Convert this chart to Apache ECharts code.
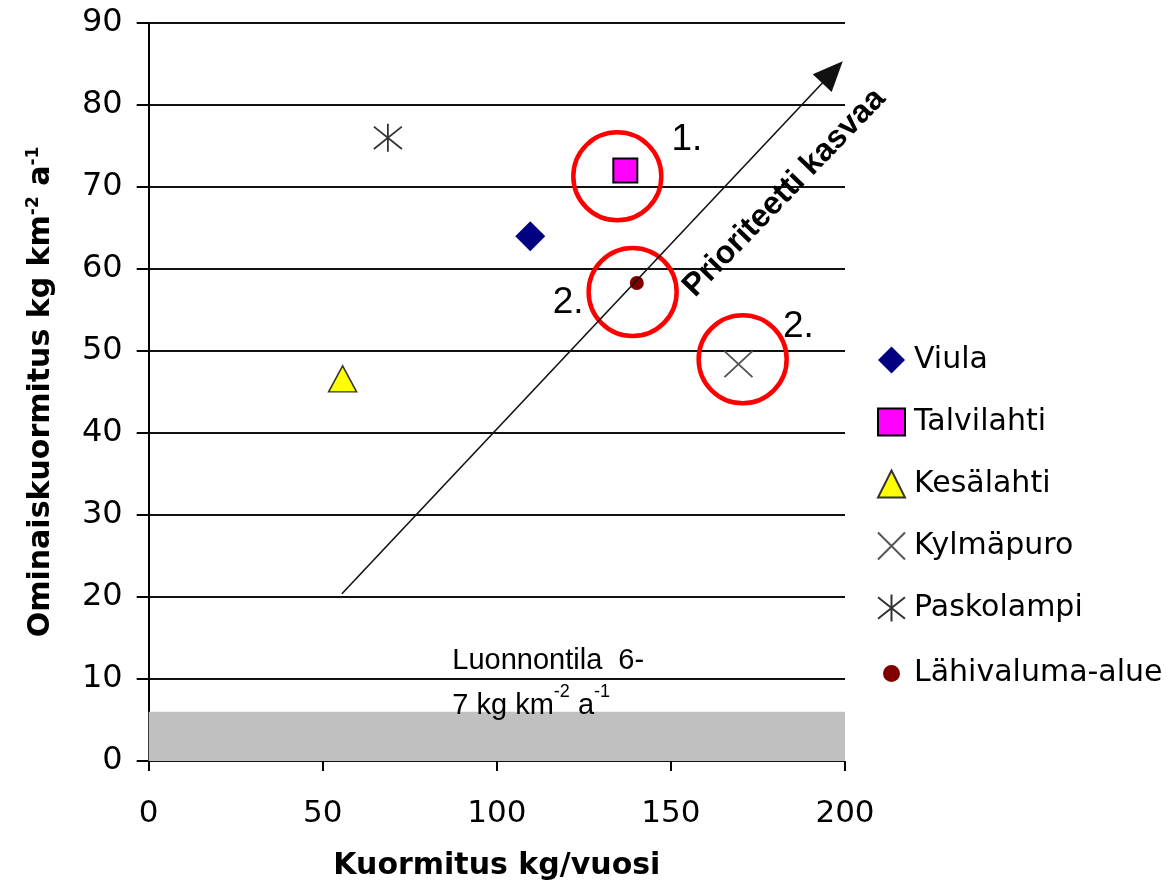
<!DOCTYPE html>
<html>
<head>
<meta charset="utf-8">
<script src="https://cdn.jsdelivr.net/npm/echarts@6/dist/echarts.min.js"></script>
<style>
html, body { margin: 0; padding: 0; background: #fff; }
#main { width: 1167px; height: 893px; }
</style>
</head>
<body>
<div id="main"></div>
<script>
// pisteet: [kuormitus kg/vuosi, ominaiskuormitus kg km-2 a-1]
var viula = [[109.6, 64.0]];
var talvilahti = [[136.9, 72.0]];
var kesalahti = [[55.7, 46.6]];
var kylmapuro = [[169.4, 48.4]];
var paskolampi = [[68.7, 76.0]];
var lahivaluma = [[140.2, 58.3]];

// korostusympyrät ja numerot
var circles = [[134.6, 71.3], [139.0, 57.2], [170.6, 49.0]];
var circleTexts = ['1.', '2.', '2.'];
var circleTextPos = [[154.6, 75.7], [120.5, 55.9], [186.6, 52.9]];

// luonnontila-alue ja nuoli
var natureBand = [0, 6];
var natureTextPos = [87.2, 9.45];
var arrowFrom = [55.5, 20.4];
var arrowTo = [196.4, 84.0];
var arrowTextPos = [182.6, 69.3];

var xTicks = { min: 0, max: 200, interval: 50 };
var yTicks = { min: 0, max: 90, interval: 10 };

var FONT = 'DejaVu Sans';
var ARIAL = 'Liberation Sans';

var pathX = 'path://M0,0L10,10M10,0L0,10';
var pathStar = 'path://M0,1L10,9M10,1L0,9M5,0L5,10';

var myChart = echarts.init(document.getElementById('main'));

var textPoints = circleTexts.map(function (t, i) {
    return { name: t, value: circleTextPos[i] };
});

myChart.setOption({
    animation: false,
    backgroundColor: '#fff',
    grid: {
        left: 148.7,
        right: 322,
        top: 23,
        bottom: 132,
        outerBoundsMode: 'none'
    },
    legend: {
        orient: 'vertical',
        left: 868,
        top: 340,
        itemWidth: 27,
        itemHeight: 27,
        itemGap: 32,
        selectedMode: false,
        data: [
            'Viula',
            { name: 'Talvilahti', itemStyle: { borderWidth: 2, borderColor: '#000' } },
            'Kesälahti',
            'Kylmäpuro',
            'Paskolampi',
            { name: 'Lähivaluma-alue', itemStyle: { borderColor: '#fff', borderWidth: 10 } }
        ],
        textStyle: { fontFamily: FONT, fontSize: 30, color: '#000', lineHeight: 30, padding: [0, 0, 0, 4] }
    },
    xAxis: {
        type: 'value',
        min: xTicks.min,
        max: xTicks.max,
        interval: xTicks.interval,
        name: 'Kuormitus kg/vuosi',
        nameLocation: 'middle',
        nameGap: 90,
        nameTextStyle: { fontFamily: FONT, fontWeight: 'bold', fontSize: 30, color: '#000' },
        axisLine: { show: false },
        axisTick: { show: true, length: 10, lineStyle: { color: '#000', width: 2 } },
        axisLabel: { margin: 37, fontFamily: FONT, fontSize: 31, color: '#000' },
        splitLine: { show: false }
    },
    yAxis: {
        type: 'value',
        min: yTicks.min,
        max: yTicks.max,
        interval: yTicks.interval,
        name: '{b|Ominaiskuormitus kg km}{s|-2}{b| a}{s|-1}',
        nameLocation: 'middle',
        nameGap: 90,
        nameTextStyle: {
            fontFamily: FONT, fontWeight: 'bold', fontSize: 30, color: '#000',
            rich: {
                b: { fontFamily: FONT, fontWeight: 'bold', fontSize: 30, color: '#000', lineHeight: 34 },
                s: { fontFamily: FONT, fontWeight: 'bold', fontSize: 17, color: '#000', lineHeight: 17, verticalAlign: 'top' }
            }
        },
        axisLine: { show: true, lineStyle: { color: '#000', width: 2 } },
        axisTick: { show: true, length: 12, lineStyle: { color: '#000', width: 2 } },
        axisLabel: { margin: 26, fontFamily: FONT, fontSize: 32, color: '#000' },
        splitLine: { show: true, lineStyle: { color: '#111', width: 2 } }
    },
    series: [
        {
            // harmaa luonnontila-alue ja nuoli
            name: 'tausta',
            type: 'scatter',
            data: [],
            silent: true,
            markArea: {
                silent: true,
                itemStyle: { color: '#c0c0c0', opacity: 1 },
                label: { show: false },
                data: [[{ yAxis: natureBand[0] }, { yAxis: natureBand[1] }]]
            },
            markLine: {
                silent: true,
                symbol: ['none', 'triangle'],
                symbolSize: [26, 30],
                label: { show: false },
                lineStyle: { color: '#111', width: 1.6, type: 'solid', opacity: 1 },
                itemStyle: { color: '#000', opacity: 1 },
                data: [[{ coord: arrowFrom }, { coord: arrowTo }]]
            }
        },
        {
            name: 'ympyrät',
            type: 'scatter',
            silent: true,
            symbol: 'circle',
            symbolSize: 88,
            itemStyle: { color: 'rgba(0,0,0,0)', borderColor: '#ff0000', borderWidth: 4.5, opacity: 1 },
            data: circles
        },
        {
            name: 'numerot',
            type: 'scatter',
            silent: true,
            symbolSize: 0,
            itemStyle: { opacity: 1 },
            data: textPoints,
            label: {
                show: true,
                position: [0, 0],
                align: 'center',
                verticalAlign: 'middle',
                formatter: '{b}',
                fontFamily: ARIAL,
                fontSize: 37,
                color: '#000'
            }
        },
        {
            name: 'tekstit',
            type: 'scatter',
            silent: true,
            symbolSize: 0,
            itemStyle: { opacity: 1 },
            data: [
                { value: natureTextPos, name: 'luonto' }
            ],
            label: {
                show: true,
                position: [0, 0],
                align: 'left',
                verticalAlign: 'middle',
                formatter: '{n|Luonnontila  6-}\n{n|7 kg km}{s|-2}{n| a}{s|-1}',
                rich: {
                    n: { fontFamily: ARIAL, fontSize: 29, color: '#000', lineHeight: 45 },
                    s: { fontFamily: ARIAL, fontSize: 18, color: '#000', lineHeight: 18, verticalAlign: 'top' }
                }
            }
        },
        {
            name: 'nuoliteksti',
            type: 'scatter',
            silent: true,
            symbolSize: 0,
            itemStyle: { opacity: 1 },
            data: [{ value: arrowTextPos, name: 'Prioriteetti kasvaa' }],
            label: {
                show: true,
                position: [0, 0],
                align: 'center',
                verticalAlign: 'middle',
                rotate: 46,
                formatter: '{b}',
                fontFamily: ARIAL,
                fontWeight: 'bold',
                fontSize: 32,
                color: '#000'
            }
        },
        {
            name: 'Viula', type: 'scatter', symbol: 'diamond', symbolSize: 30,
            itemStyle: { color: '#000080', opacity: 1 }, data: viula
        },
        {
            name: 'Talvilahti', type: 'scatter', symbol: 'rect', symbolSize: 24,
            itemStyle: { color: '#ff00ff', borderColor: '#000', borderWidth: 2, opacity: 1 }, data: talvilahti
        },
        {
            name: 'Kesälahti', type: 'scatter', symbol: 'triangle', symbolSize: [28, 26],
            itemStyle: { color: '#ffff00', borderColor: '#333', borderWidth: 1.5, opacity: 1 }, data: kesalahti
        },
        {
            name: 'Kylmäpuro', type: 'scatter', symbol: pathX, symbolSize: [28, 26],
            itemStyle: { color: 'rgba(0,0,0,0)', borderColor: '#555', borderWidth: 1.8, opacity: 1 }, data: kylmapuro
        },
        {
            name: 'Paskolampi', type: 'scatter', symbol: pathStar, symbolSize: [28, 28],
            itemStyle: { color: 'rgba(0,0,0,0)', borderColor: '#333', borderWidth: 1.8, opacity: 1 }, data: paskolampi
        },
        {
            name: 'Lähivaluma-alue', type: 'scatter', symbol: 'circle', symbolSize: 14,
            itemStyle: { color: '#800000', opacity: 1 }, data: lahivaluma
        }
    ]
});
</script>
</body>
</html>
